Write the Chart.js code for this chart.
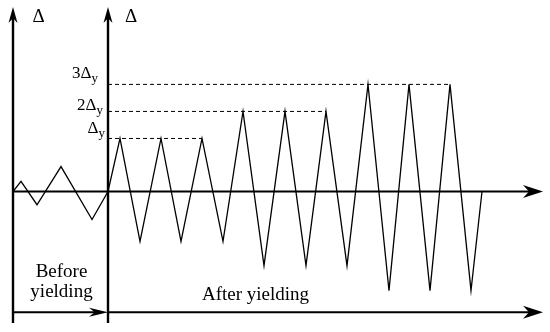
<!DOCTYPE html>
<html>
<head>
<meta charset="utf-8">
<script src="https://cdn.jsdelivr.net/npm/chart.js@4/dist/chart.umd.min.js"></script>
<style>
  body { margin: 0; background: #fff; }
  #wrap { width: 550px; height: 332px; }
</style>
</head>
<body>
<div id="wrap"><canvas id="loadChart"></canvas></div>
<script>
// time steps (arbitrary units) and displacement (in units, Δy level ≈ 1)
const beforeTime = [0, 0.8, 2.4, 4.8, 7.9, 9.5];
const beforeDisp = [0, 0.19, -0.25, 0.47, -0.53, 0];

const afterTime = [9.5, 10.7, 12.7, 14.8, 16.8, 18.9, 21.0, 23.0, 25.1, 27.2, 29.3, 31.3,
  33.4, 35.5, 37.6, 39.6, 41.7, 43.7, 45.8, 46.9];
const afterDisp = [0, 1, -0.94, 1, -0.94, 1, -0.94, 1.51, -1.40, 1.51, -1.40, 1.51,
  -1.40, 2.02, -1.87, 2.02, -1.87, 2.02, -1.87, 0];

// reference levels: Δy, 2Δy, 3Δy and the time of the last peak at each level
const levelNames = ['Δ', '2Δ', '3Δ'];
const levelValues = [1, 1.51, 2.02];
const levelEnds = [18.9, 31.3, 43.7];

const yieldTime = 9.5;
const timeMax = 53;
const phaseBarY = -2.28;

const wave = beforeTime.map((t, i) => ({ x: t, y: beforeDisp[i] }))
  .concat(afterTime.slice(1).map((t, i) => ({ x: t, y: afterDisp[i + 1] })));

const dashSets = levelValues.map((v, i) => ({
  data: [{ x: yieldTime, y: v }, { x: levelEnds[i], y: v }],
  borderColor: '#000',
  borderWidth: 1,
  borderDash: [4, 3],
  pointRadius: 0,
  fill: false
}));

const SERIF = '"Liberation Serif", "DejaVu Serif", serif';

function arrow(ctx, tx, ty, dir, len, half) {
  // dir: 'up' or 'right'
  ctx.beginPath();
  if (dir === 'right') {
    ctx.moveTo(tx, ty);
    ctx.lineTo(tx - len, ty - half);
    ctx.lineTo(tx - len * 0.7, ty);
    ctx.lineTo(tx - len, ty + half);
  } else {
    ctx.moveTo(tx, ty);
    ctx.lineTo(tx - half, ty + len);
    ctx.lineTo(tx, ty + len * 0.7);
    ctx.lineTo(tx + half, ty + len);
  }
  ctx.closePath();
  ctx.fill();
}

const axesPlugin = {
  id: 'axesPlugin',
  afterDatasetsDraw(chart) {
    const ctx = chart.ctx;
    const xs = chart.scales.x, ys = chart.scales.y;
    const area = chart.chartArea;
    const x0 = xs.getPixelForValue(0);
    const x1 = xs.getPixelForValue(yieldTime);
    const xEnd = xs.getPixelForValue(timeMax);
    const y0 = ys.getPixelForValue(0);
    const yBar = ys.getPixelForValue(phaseBarY);
    ctx.save();
    ctx.strokeStyle = '#000';
    ctx.fillStyle = '#000';

    // vertical axes
    ctx.lineWidth = 2.4;
    [x0, x1].forEach(x => {
      ctx.beginPath();
      ctx.moveTo(x, area.top + 8);
      ctx.lineTo(x, area.bottom - 1);
      ctx.stroke();
      arrow(ctx, x, area.top, 'up', 16, 4.5);
    });

    // time axis
    ctx.lineWidth = 2;
    ctx.beginPath();
    ctx.moveTo(x0, y0);
    ctx.lineTo(xEnd - 8, y0);
    ctx.stroke();
    arrow(ctx, xEnd, y0, 'right', 20, 6.5);

    // phase bars
    ctx.beginPath();
    ctx.moveTo(x0, yBar);
    ctx.lineTo(x1 - 8, yBar);
    ctx.moveTo(x1, yBar);
    ctx.lineTo(xEnd - 8, yBar);
    ctx.stroke();
    arrow(ctx, x1, yBar, 'right', 19, 4.5);
    arrow(ctx, xEnd, yBar, 'right', 20, 6.5);

    // axis titles
    ctx.font = '19px ' + SERIF;
    ctx.textAlign = 'center';
    ctx.textBaseline = 'alphabetic';
    ctx.fillText('Δ', x0 + 25.5, 22);
    ctx.fillText('Δ', x1 + 23, 22);

    // phase labels
    ctx.fillText('Before', (x0 + x1) / 2 + 1, 277);
    ctx.fillText('yielding', (x0 + x1) / 2 + 1, 297);
    ctx.textAlign = 'left';
    ctx.fillText('After yielding', x1 + 94, 300);

    // level labels with subscript y
    const offs = [[-3, -5], [-5, -1], [-10, -6]];
    levelValues.forEach((v, i) => {
      const py = ys.getPixelForValue(v);
      const right = x1 + offs[i][0];
      ctx.font = '13px ' + SERIF;
      const wSub = ctx.measureText('y').width;
      ctx.textAlign = 'right';
      ctx.fillText('y', right, py + offs[i][1] + 4);
      ctx.font = '17px ' + SERIF;
      ctx.fillText(levelNames[i], right - wSub, py + offs[i][1]);
    });
    ctx.restore();
  }
};

new Chart(document.getElementById('loadChart'), {
  type: 'line',
  data: {
    datasets: [
      {
        data: wave,
        borderColor: '#000',
        borderWidth: 1.3,
        pointRadius: 0,
        tension: 0,
        fill: false
      },
      ...dashSets
    ]
  },
  options: {
    responsive: true,
    maintainAspectRatio: false,
    animation: false,
    layout: { padding: { left: 13, right: 7, top: 7, bottom: 8 } },
    scales: {
      x: { type: 'linear', display: false, min: 0, max: timeMax },
      y: { type: 'linear', display: false, min: -2.5, max: 3.48 }
    },
    plugins: {
      legend: { display: false },
      tooltip: { enabled: false }
    }
  },
  plugins: [axesPlugin]
});
</script>
</body>
</html>
